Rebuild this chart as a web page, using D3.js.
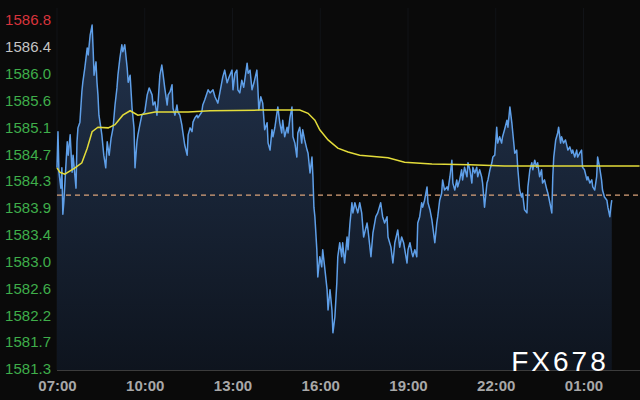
<!DOCTYPE html>
<html><head><meta charset="utf-8">
<script src="https://cdn.jsdelivr.net/npm/d3@7"></script>
<style>html,body{margin:0;padding:0;background:#0a0a0a;} svg{display:block;}</style>
</head><body><svg id="chart" width="640" height="400"></svg>
<script>
// ---- data ----
const timeLabels = ["07:00","10:00","13:00","16:00","19:00","22:00","01:00"];
const timeTicks = [0,180,360,540,720,900,1080]; // minutes after 07:00
const yTickLabels = ["1581.3","1581.7","1582.2","1582.6","1583.0","1583.4","1583.9","1584.3","1584.7","1585.1","1585.6","1586.0","1586.4","1586.8"];
const yMin = 1581.3, yMax = 1586.8;
const prevClose = 1584.04;
const watermark = "FX678";
// [minutes after 07:00, price]
const price = [
[0,1584.47],[2,1585.04],[4,1584.40],[8,1584.15],[10,1584.47],[12,1583.74],[14,1583.93],[21,1584.88],[23,1584.67],[27,1584.99],[31,1584.40],[33,1584.67],[39,1584.15],[41,1584.88],[43,1585.10],[47,1585.19],[51,1585.67],[53,1585.82],[57,1586.04],[62,1586.36],[64,1586.25],[68,1586.56],[72,1586.72],[74,1586.36],[76,1585.93],[80,1586.14],[82,1585.82],[84,1585.62],[86,1585.30],[90,1585.10],[92,1584.99],[96,1584.67],[100,1584.47],[103,1584.88],[107,1584.67],[111,1584.94],[115,1585.10],[119,1585.46],[123,1585.73],[125,1585.93],[129,1586.20],[133,1586.41],[135,1586.30],[139,1586.41],[144,1586.04],[146,1585.82],[150,1585.93],[154,1585.41],[158,1585.10],[160,1584.47],[164,1584.88],[166,1584.99],[170,1585.15],[174,1585.30],[180,1585.35],[185,1585.62],[189,1585.73],[195,1585.62],[197,1585.46],[201,1585.51],[205,1585.30],[207,1585.46],[211,1585.93],[215,1586.09],[217,1585.98],[221,1585.73],[226,1585.46],[228,1585.62],[232,1585.67],[236,1585.78],[238,1585.41],[242,1585.30],[246,1585.46],[248,1585.35],[252,1585.30],[256,1585.15],[258,1585.04],[262,1584.83],[267,1584.67],[269,1584.99],[273,1585.10],[277,1585.04],[279,1585.19],[283,1585.26],[287,1585.30],[289,1585.26],[297,1585.35],[299,1585.46],
[303,1585.54],[310,1585.70],[314,1585.65],[320,1585.70],[324,1585.59],[330,1585.49],[334,1585.65],[340,1585.90],[344,1586.01],[349,1585.81],[353,1585.90],[359,1586.01],[361,1585.70],[365,1585.96],[369,1586.01],[371,1585.70],[375,1585.65],[379,1585.85],[383,1585.74],[390,1586.12],[392,1585.96],[396,1586.01],[400,1585.70],[404,1585.81],[410,1586.01],[412,1585.74],[414,1585.38],[418,1585.59],[422,1585.49],[426,1585.07],[431,1585.18],[433,1584.86],[437,1584.75],[441,1585.07],[443,1584.96],[447,1585.11],[451,1585.33],[453,1585.43],[457,1585.18],[461,1585.02],[463,1585.22],[467,1584.96],[472,1585.11],[474,1585.02],[478,1585.27],[482,1585.43],[484,1584.96],[488,1584.86],[492,1584.64],[494,1585.02],[498,1585.11],[502,1584.86],[504,1585.07],[508,1584.91],[513,1584.75],[515,1584.70],[519,1584.39],[523,1584.64],[525,1584.33],[527,1583.85],[529,1583.70],[533,1583.18],[535,1582.75],[539,1583.07],[543,1582.91],[545,1583.18],[549,1582.91],[554,1582.55],[556,1582.23],[560,1582.55],[564,1582.23],[566,1581.87],[570,1582.12],[574,1582.66],[576,1583.07],[580,1583.29],[584,1583.07],[586,1583.29],[590,1582.97],[595,1583.38],[597,1583.18],[601,1583.60],[605,1583.92],[607,1583.76],[611,1583.92],
[617,1583.76],[621,1583.92],[625,1583.76],[629,1583.38],[636,1583.60],[638,1583.49],[644,1583.07],[648,1583.44],[654,1583.70],[658,1583.76],[664,1583.92],[668,1583.70],[672,1583.60],[677,1583.70],[679,1583.38],[685,1583.22],[689,1582.97],[693,1583.29],[699,1583.49],[703,1583.22],[707,1583.38],[711,1583.29],[718,1582.97],[720,1583.18],[724,1583.29],[728,1583.13],[730,1583.07],[734,1583.18],[738,1583.07],[740,1583.60],[744,1583.70],[748,1583.92],[750,1583.85],[754,1583.96],[759,1584.17],[761,1583.92],[765,1583.81],[769,1583.65],[775,1583.29],[779,1583.60],[781,1583.70],[785,1583.96],[789,1584.07],[791,1584.28],[795,1584.12],[800,1584.17],[802,1584.12],[806,1584.33],[810,1584.59],[812,1584.23],[816,1584.12],[820,1584.28],[822,1584.17],[826,1584.28],[830,1584.44],[832,1584.28],[836,1584.48],[841,1584.33],[843,1584.55],[847,1584.44],[851,1584.23],[853,1584.48],[857,1584.39],[861,1584.48],[863,1584.33],[867,1584.44],[871,1584.33],[873,1584.23],[877,1583.85],[882,1584.23],[884,1584.28],[888,1584.44],[892,1584.55],[894,1584.64],
[898,1584.67],[902,1585.11],[904,1584.86],[908,1584.96],[912,1584.86],[914,1584.96],[918,1585.07],[923,1585.22],[925,1585.11],[929,1585.43],[933,1585.18],[935,1585.02],[939,1584.70],[943,1584.75],[945,1584.48],[949,1584.12],[953,1584.01],[955,1584.07],[959,1583.81],[964,1583.76],[966,1584.17],[970,1584.44],[974,1584.55],[976,1584.44],[980,1584.59],[984,1584.48],[986,1584.55],[990,1584.33],[994,1584.44],[996,1584.23],[1000,1584.28],[1005,1584.12],[1007,1584.07],[1011,1583.92],[1015,1583.76],[1017,1584.33],[1019,1584.64],[1023,1584.91],[1027,1585.02],[1029,1585.11],[1033,1584.86],[1035,1584.96],[1039,1584.86],[1043,1584.91],[1048,1584.75],[1052,1584.80],[1056,1584.70],[1058,1584.75],[1062,1584.64],[1066,1584.75],[1068,1584.64],[1072,1584.70],[1076,1584.75],[1078,1584.48],[1082,1584.44],[1087,1584.28],[1089,1584.33],[1093,1584.23],[1097,1584.28],[1099,1584.17],[1103,1584.12],[1107,1584.33],[1109,1584.64],[1113,1584.48],[1117,1584.28],[1119,1584.12],[1123,1584.01],[1128,1583.96],[1130,1583.85],[1134,1583.70],[1136,1583.85],[1138,1583.96]
];
// [minutes after 07:00, average price]
const avgPrice = [
[0,1584.47],[6,1584.40],[16,1584.37],[37,1584.47],[51,1584.55],[62,1584.78],[72,1585.04],[84,1585.11],[105,1585.10],[119,1585.15],[135,1585.30],[150,1585.37],[166,1585.30],[180,1585.32],[201,1585.35],[269,1585.35],[314,1585.37],[416,1585.38],[498,1585.38],[515,1585.33],[529,1585.22],[539,1585.07],[556,1584.91],[576,1584.78],[597,1584.72],[621,1584.67],[679,1584.63],[713,1584.56],[769,1584.53],[847,1584.52],[918,1584.50],[1195,1584.50]
];

// ---- chart ----
const svg = d3.select("#chart");
const W = 640, H = 400;
const x = d3.scaleLinear().domain([0, 1200]).range([57, 642]);
const y = d3.scaleLinear().domain([yMin, yMax]).range([369, 20]);
const plotBottom = 370;

svg.append("rect").attr("width", W).attr("height", H).attr("fill", "#0a0a0a");

const defs = svg.append("defs");
const grad = defs.append("linearGradient").attr("id", "areaGrad")
  .attr("gradientUnits", "userSpaceOnUse").attr("x1", 0).attr("y1", 20).attr("x2", 0).attr("y2", plotBottom);
grad.append("stop").attr("offset", "0%").attr("stop-color", "#22334d");
grad.append("stop").attr("offset", "100%").attr("stop-color", "#0e141e");

// faint vertical grid
svg.append("g").selectAll("line").data(timeTicks).join("line")
  .attr("x1", d => x(d)).attr("x2", d => x(d))
  .attr("y1", 8).attr("y2", plotBottom)
  .attr("stroke", "#111317").attr("stroke-width", 1);

// area
const area = d3.area().x(d => x(d[0])).y0(plotBottom).y1(d => y(d[1]));
svg.append("path").datum(price).attr("d", area).attr("fill", "url(#areaGrad)");

// prev close dashed
svg.append("line").attr("x1", 57).attr("x2", W)
  .attr("y1", y(prevClose)).attr("y2", y(prevClose))
  .attr("stroke", "#d9a27a").attr("stroke-width", 1.2).attr("stroke-dasharray", "5,4");

// price line
const line = d3.line().x(d => x(d[0])).y(d => y(d[1]));
svg.append("path").datum(price).attr("d", line)
  .attr("fill", "none").attr("stroke", "#5f9fe8").attr("stroke-width", 1.5).attr("stroke-linejoin", "round");

// average line
svg.append("path").datum(avgPrice).attr("d", line)
  .attr("fill", "none").attr("stroke", "#e3dc3a").attr("stroke-width", 1.5);

// bottom axis line
svg.append("line").attr("x1", 57).attr("x2", W).attr("y1", plotBottom + 0.5).attr("y2", plotBottom + 0.5)
  .attr("stroke", "#3c3c3c").attr("stroke-width", 1);

// y axis labels
const step = (yMax - yMin) / (yTickLabels.length - 1);
const yTickVals = yTickLabels.map((_, i) => yMin + i * step);
const yAxis = d3.axisLeft(y).tickValues(yTickVals).tickSize(0).tickPadding(0)
  .tickFormat((d, i) => yTickLabels[i]);
const gy = svg.append("g").attr("transform", "translate(51,0)").call(yAxis);
gy.select(".domain").remove();
gy.selectAll("text")
  .attr("font-family", "Liberation Sans, Arial, sans-serif").attr("font-size", 15)
  .attr("fill", (d, i) => i === yTickLabels.length - 1 ? "#d8343c" : (i === yTickLabels.length - 2 ? "#c4c4c4" : "#3fae4a"));

// x axis labels
const xAxis = d3.axisBottom(x).tickValues(timeTicks).tickSize(0).tickPadding(0)
  .tickFormat((d, i) => timeLabels[i]);
const gx = svg.append("g").attr("transform", `translate(0,${plotBottom + 10})`).call(xAxis);
gx.select(".domain").remove();
gx.selectAll("text")
  .attr("font-family", "Liberation Sans, Arial, sans-serif").attr("font-size", 15)
  .attr("font-weight", "bold").attr("fill", "#a8a8a8");

// watermark
svg.append("text").attr("x", 560).attr("y", 371).attr("text-anchor", "middle")
  .attr("font-family", "Liberation Sans, Arial, sans-serif").attr("font-size", 28)
  .attr("letter-spacing", 3).attr("fill", "#ffffff").text(watermark);
</script>
</body></html>
